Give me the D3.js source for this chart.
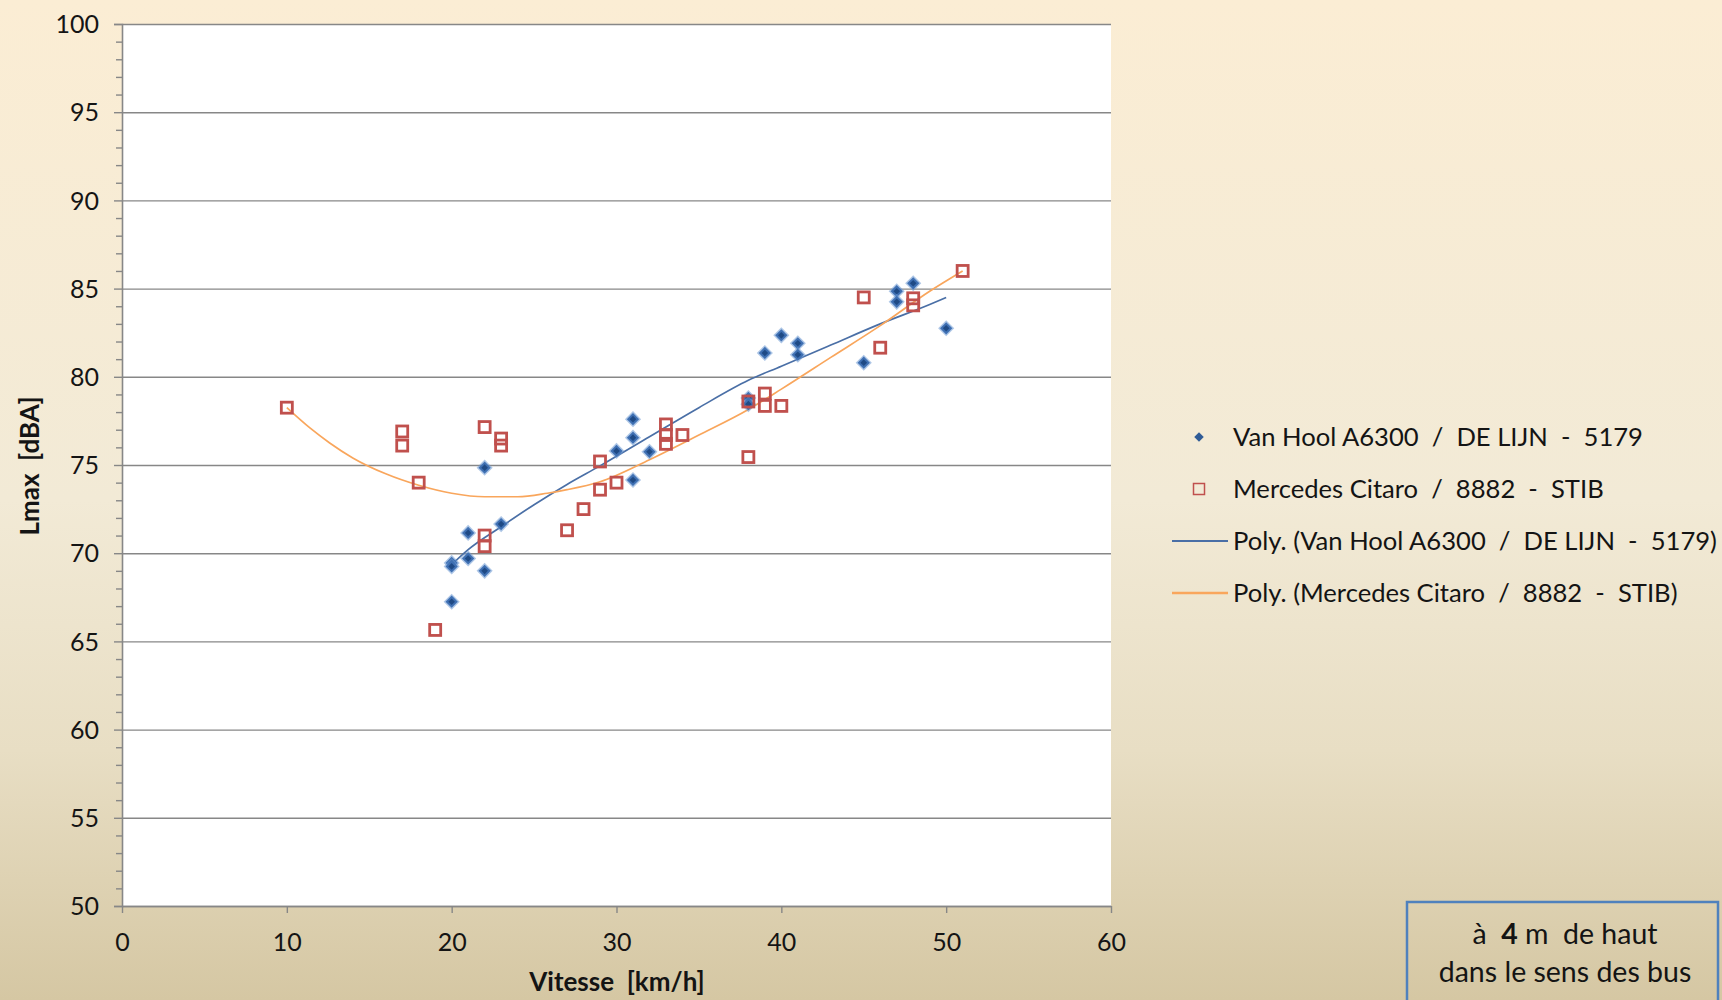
<!DOCTYPE html>
<html>
  <head>
    <meta charset="utf-8">
    <title>Lmax vs vitesse</title>
    <style>
      body { margin: 0; }
      text { font-family: Lato, "Liberation Sans", sans-serif; fill: #141414; white-space: pre; }
    </style>
  </head>
  <body>
    <div id="container"></div>
    <script src="https://cdn.jsdelivr.net/npm/d3@7"></script>
    <script>
      // Van Hool A6300 / DE LIJN - 5179
      var vhSpeed = [20, 20, 20, 21, 21, 22, 22, 23, 30, 31, 31, 31, 32, 38, 38, 39, 40, 41, 41, 45, 47, 47, 48, 50];
      var vhLmax  = [69.45, 69.25, 67.25, 71.15, 69.7, 74.85, 69.0, 71.65, 75.8, 77.6, 76.55, 74.15, 75.75,
                     78.8, 78.45, 81.35, 82.35, 81.9, 81.25, 80.8, 84.85, 84.25, 85.3, 82.75];
      // Mercedes Citaro / 8882 - STIB
      var mcSpeed = [10, 17, 17, 18, 19, 22, 22, 22, 23, 23, 27, 28, 29, 29, 30, 33, 33, 33, 34, 38, 38, 39, 39, 40, 45, 46, 48, 48, 51];
      var mcLmax  = [78.25, 76.9, 76.1, 74.0, 65.65, 77.15, 71.0, 70.4, 76.5, 76.1, 71.3, 72.5, 75.2, 73.6, 74.0,
                     77.3, 76.7, 76.2, 76.7, 78.6, 75.45, 79.05, 78.35, 78.35, 84.5, 81.65, 84.45, 84.05, 86.0];
      // trend lines
      var vhTrendX = [20, 21, 23, 25, 27, 29, 32, 35, 38, 40, 43, 46, 49, 50];
      var vhTrendY = [69.35, 70.2, 71.5, 72.75, 73.9, 74.95, 76.6, 78.25, 79.8, 80.6, 81.8, 83.0, 84.1, 84.5];
      var mcTrendX = [10, 11.4, 12.6, 14, 16, 18, 20, 22, 24, 25.8, 27, 29, 32, 35, 38, 40, 43, 46, 49, 51];
      var mcTrendY = [78.25, 77.1, 76.25, 75.4, 74.5, 73.85, 73.4, 73.2, 73.2, 73.4, 73.6, 74.05, 75.3, 76.7,
                      78.15, 79.3, 81.1, 82.9, 84.85, 86.0];

      var xTicks = [0, 10, 20, 30, 40, 50, 60];
      var yTicks = [50, 55, 60, 65, 70, 75, 80, 85, 90, 95, 100];
      var legendLabels = ["Van Hool A6300  /  DE LIJN  -  5179",
                          "Mercedes Citaro  /  8882  -  STIB",
                          "Poly. (Van Hool A6300  /  DE LIJN  -  5179)",
                          "Poly. (Mercedes Citaro  /  8882  -  STIB)"];

      var W = 1722, H = 1000;
      var plot = {left: 122, right: 1111, top: 24, bottom: 906};

      var svg = d3.select("#container").append("svg")
        .attr("width", W).attr("height", H);

      var grad = svg.append("defs").append("linearGradient")
        .attr("id", "bg").attr("x1", 0).attr("y1", 0).attr("x2", 0).attr("y2", 1);
      grad.append("stop").attr("offset", "0%").attr("stop-color", "#fbedd4");
      grad.append("stop").attr("offset", "50%").attr("stop-color", "#f2ead6");
      grad.append("stop").attr("offset", "75%").attr("stop-color", "#e8dec4");
      grad.append("stop").attr("offset", "100%").attr("stop-color", "#d5c7a3");
      svg.append("rect").attr("width", W).attr("height", H).attr("fill", "url(#bg)");

      var x = d3.scaleLinear().domain([0, 60]).range([plot.left, plot.right]);
      var y = d3.scaleLinear().domain([50, 100]).range([plot.bottom, plot.top]);

      svg.append("rect")
        .attr("x", plot.left).attr("y", plot.top)
        .attr("width", plot.right - plot.left).attr("height", plot.bottom - plot.top)
        .attr("fill", "#fff");

      // gridlines
      svg.append("g")
        .attr("transform", "translate(" + plot.left + ",0)")
        .call(d3.axisLeft(y).tickValues(yTicks).tickSize(-(plot.right - plot.left)).tickFormat(""))
        .call(function(g) { g.select(".domain").remove(); })
        .selectAll("line").attr("stroke", "#878787").attr("stroke-width", 1.4);

      // minor y ticks
      var minor = d3.range(51, 100).filter(function(v) { return v % 5 != 0; });
      svg.append("g")
        .attr("transform", "translate(" + plot.left + ",0)")
        .call(d3.axisLeft(y).tickValues(minor).tickSize(6).tickFormat(""))
        .call(function(g) { g.select(".domain").remove(); })
        .selectAll("line").attr("stroke", "#878787").attr("stroke-width", 1.4);

      // y axis
      var yAxis = svg.append("g")
        .attr("transform", "translate(" + plot.left + ",0)")
        .call(d3.axisLeft(y).tickValues(yTicks).tickSize(8).tickPadding(15));
      yAxis.select(".domain").attr("stroke", "#878787").attr("stroke-width", 1.6);
      yAxis.selectAll("line").attr("stroke", "#878787").attr("stroke-width", 1.4);
      yAxis.selectAll("text").attr("font-size", 25).attr("font-family", null).attr("fill", "#141414").attr("dy", "0.35em");

      // x axis
      var xAxis = svg.append("g")
        .attr("transform", "translate(0," + plot.bottom + ")")
        .call(d3.axisBottom(x).tickValues(xTicks).tickSize(7).tickPadding(20).tickSizeOuter(0));
      xAxis.select(".domain").attr("stroke", "#878787").attr("stroke-width", 1.6);
      xAxis.selectAll("line").attr("stroke", "#878787").attr("stroke-width", 1.4);
      xAxis.selectAll("text").attr("font-size", 25).attr("font-family", null).attr("fill", "#141414");

      // axis titles
      svg.append("text")
        .attr("x", 617).attr("y", 991)
        .attr("text-anchor", "middle").attr("font-weight", "bold").attr("font-size", 26)
        .text("Vitesse  [km/h]");
      svg.append("text")
        .attr("transform", "translate(39,466) rotate(-90)")
        .attr("text-anchor", "middle").attr("font-weight", "bold").attr("font-size", 26)
        .text("Lmax  [dBA]");

      // trend lines
      var line = d3.line()
        .x(function(d) { return x(d[0]); })
        .y(function(d) { return y(d[1]); })
        .curve(d3.curveMonotoneX);
      svg.append("path")
        .datum(d3.zip(vhTrendX, vhTrendY))
        .attr("d", line).attr("fill", "none")
        .attr("stroke", "#4a6fa6").attr("stroke-width", 1.7);
      svg.append("path")
        .datum(d3.zip(mcTrendX, mcTrendY))
        .attr("d", line).attr("fill", "none")
        .attr("stroke", "#f9a65c").attr("stroke-width", 1.7);

      // van hool diamonds
      var diamond = d3.symbol().type(d3.symbolSquare);
      var vh = svg.append("g").selectAll("g")
        .data(d3.zip(vhSpeed, vhLmax))
        .enter().append("g")
        .attr("transform", function(d) { return "translate(" + x(d[0]) + "," + y(d[1]) + ") rotate(45)"; });
      vh.append("path").attr("d", diamond.size(130)).attr("fill", "#6a98d2").attr("opacity", 0.55);
      vh.append("path").attr("d", diamond.size(75)).attr("fill", "#3f70b3");
      vh.append("path").attr("d", diamond.size(22)).attr("fill", "#1f4a85");

      // mercedes squares
      svg.append("g").selectAll("rect")
        .data(d3.zip(mcSpeed, mcLmax))
        .enter().append("rect")
        .attr("x", function(d) { return x(d[0]) - 5.5; })
        .attr("y", function(d) { return y(d[1]) - 5.5; })
        .attr("width", 11).attr("height", 11)
        .attr("fill", "none")
        .attr("stroke", "#c0504d").attr("stroke-width", 2.8);

      // legend
      var legY = [437, 489, 541, 593];
      var leg = svg.append("g");
      leg.append("path")
        .attr("transform", "translate(1199," + legY[0] + ") rotate(45)")
        .attr("d", diamond.size(45)).attr("fill", "#2f5b96");
      leg.append("rect")
        .attr("x", 1193.5).attr("y", legY[1] - 5.5).attr("width", 11).attr("height", 11)
        .attr("fill", "none").attr("stroke", "#c0504d").attr("stroke-width", 1.5);
      leg.append("line")
        .attr("x1", 1172).attr("x2", 1228).attr("y1", legY[2]).attr("y2", legY[2])
        .attr("stroke", "#4a6fa6").attr("stroke-width", 2);
      leg.append("line")
        .attr("x1", 1172).attr("x2", 1228).attr("y1", legY[3]).attr("y2", legY[3])
        .attr("stroke", "#f9a65c").attr("stroke-width", 2.4);
      leg.selectAll("text")
        .data(legendLabels)
        .enter().append("text")
        .attr("x", 1233)
        .attr("y", function(d, i) { return legY[i]; })
        .attr("dy", "0.35em")
        .attr("font-size", 25.6)
        .text(function(d) { return d; });

      // note box
      svg.append("rect")
        .attr("x", 1407).attr("y", 902).attr("width", 311).attr("height", 120)
        .attr("fill", "none").attr("stroke", "#4f81bd").attr("stroke-width", 2.5);
      var note = svg.append("text")
        .attr("x", 1565).attr("y", 944)
        .attr("text-anchor", "middle").attr("font-size", 28.5);
      note.append("tspan").text("à  ");
      note.append("tspan").attr("font-weight", "bold").text("4");
      note.append("tspan").text(" m  de haut");
      svg.append("text")
        .attr("x", 1565).attr("y", 982)
        .attr("text-anchor", "middle").attr("font-size", 28.5)
        .text("dans le sens des bus");
    </script>
  </body>
</html>
